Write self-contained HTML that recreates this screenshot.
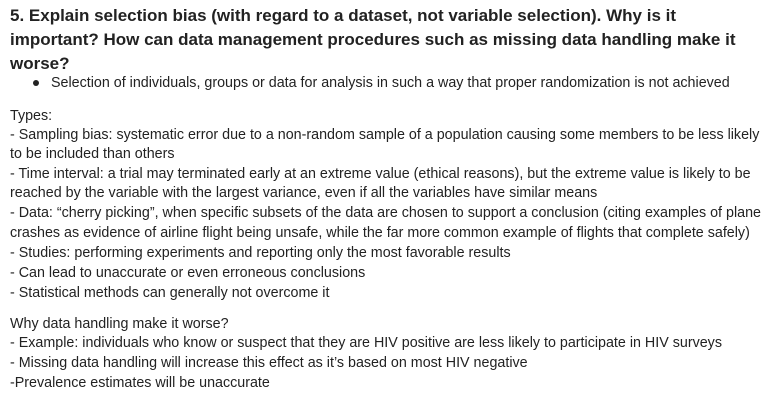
<!DOCTYPE html>
<html><head><meta charset="utf-8">
<style>
body{margin:0;width:772px;height:406px;background:#fff;overflow:hidden;font-family:"Liberation Sans",Arial,sans-serif;color:#222;}
.t{position:absolute;left:10px;font-size:17px;font-weight:bold;color:#222;white-space:nowrap;line-height:20px}
.l{position:absolute;left:10px;font-size:14.3px;white-space:nowrap;line-height:16px}
.b{position:absolute;left:33px;top:80px;width:6px;height:6px;border-radius:50%;background:#222}
</style></head><body>
<div>
<div class="t" style="top:6px">5. Explain selection bias (with regard to a dataset, not variable selection). Why is it</div>
<div class="t" style="top:30px">important? How can data management procedures such as missing data handling make it</div>
<div class="t" style="top:54px">worse?</div>
</div>
<div class="b"></div>
<div class="l" style="left:51px;top:75px">Selection of individuals, groups or data for analysis in such a way that proper randomization is not achieved</div>
<div>
<div class="l" style="top:108px">Types:</div>
<div class="l" style="top:127px">- Sampling bias: systematic error due to a non-random sample of a population causing some members to be less likely</div>
<div class="l" style="top:146px">to be included than others</div>
<div class="l" style="top:166px">- Time interval: a trial may terminated early at an extreme value (ethical reasons), but the extreme value is likely to be</div>
<div class="l" style="top:185px">reached by the variable with the largest variance, even if all the variables have similar means</div>
<div class="l" style="top:205px">- Data: “cherry picking”, when specific subsets of the data are chosen to support a conclusion (citing examples of plane</div>
<div class="l" style="top:225px">crashes as evidence of airline flight being unsafe, while the far more common example of flights that complete safely)</div>
<div class="l" style="top:245px">- Studies: performing experiments and reporting only the most favorable results</div>
<div class="l" style="top:265px">- Can lead to unaccurate or even erroneous conclusions</div>
<div class="l" style="top:285px">- Statistical methods can generally not overcome it</div>
</div>
<div>
<div class="l" style="top:316px">Why data handling make it worse?</div>
<div class="l" style="top:335px">- Example: individuals who know or suspect that they are HIV positive are less likely to participate in HIV surveys</div>
<div class="l" style="top:355px">- Missing data handling will increase this effect as it’s based on most HIV negative</div>
<div class="l" style="top:375px">-Prevalence estimates will be unaccurate</div>
</div>
</body></html>
